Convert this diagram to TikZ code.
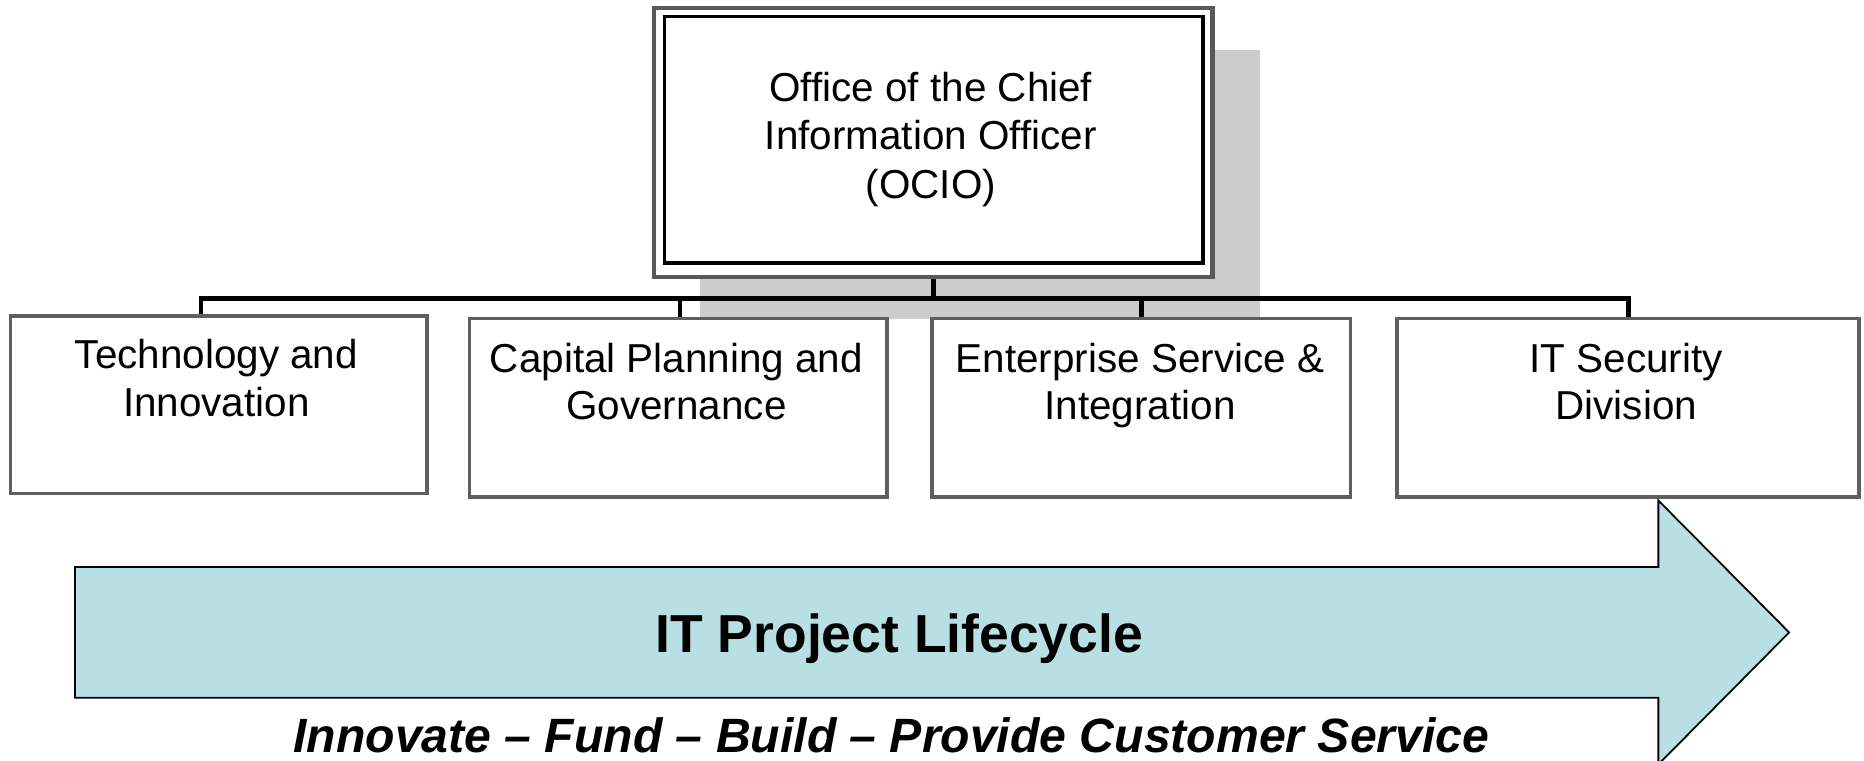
\documentclass[tikz,border=0pt]{standalone}
\usepackage{fontspec}
\setmainfont{Liberation Sans}
\definecolor{arrowfill}{RGB}{184,223,227}
\definecolor{shadowgray}{RGB}{204,204,204}
\definecolor{boxline}{RGB}{95,95,95}
\begin{document}
\begin{tikzpicture}[x=1pt,y=-1pt,
  unitbox/.style={draw=boxline, line width=3, fill=white, rectangle, inner sep=0pt},
  unittext/.style={font=\fontsize{34}{40}\selectfont, align=center, anchor=base, inner sep=0pt},
  bus/.style={draw=black, line width=4}
]
\useasboundingbox (0,0) rectangle (1568,640);
\fill[white] (0,0) rectangle (1568,640);

% shadow of the top box
\fill[shadowgray] (589,42) rectangle (1060,268);

% top box (double border)
\node[draw=black!65, line width=3.5, fill=white, minimum width=470, minimum height=226, inner sep=0pt] (ocio) at (785,120) {};
\node[draw=black, line width=3, minimum width=453, minimum height=207, inner sep=0pt] (ocioin) at (785.5,117.5) {};
\node[font=\fontsize{34}{41}\selectfont, align=center, anchor=base, inner sep=0pt] (ociotext) at (783,167) {Office of the Chief\\Information Officer\\(OCIO)};

% child boxes
\node[unitbox, minimum width=350, minimum height=149] (tech) at (184,340.5) {};
\node[unitbox, minimum width=351, minimum height=150] (cap) at (570.5,343) {};
\node[unitbox, minimum width=352, minimum height=150] (ent) at (960,343) {};
\node[unitbox, minimum width=389, minimum height=150] (its) at (1369.5,343) {};

\node[unittext] (techtext) at (182,350) {Technology and\\Innovation};
\node[unittext] (captext) at (569,353) {Capital Planning and\\Governance};
\node[unittext] (enttext) at (959,353) {Enterprise Service \&\\Integration};
\node[unittext] (itstext) at (1368,353) {IT Security\\Division};

% connectors
\coordinate (busL) at (169,251);
\coordinate (busR) at (1370,251);
\draw[bus] (ocio.south) -- (ocio.south |- busL);
\draw[bus, line cap=rect] (busL) -- (busR);
\draw[bus] (busL) -- (busL |- tech.north);
\draw[bus] (cap.north -| 572,0) -- (572,251);
\draw[bus] (ent.north) -- (ent.north |- busL);
\draw[bus] (busR) -- (busR |- its.north);

% lifecycle arrow
\draw[fill=arrowfill, line width=1.5, line join=miter]
  (63,477) -- (1395,477) -- (1395,421) -- (1505,532) -- (1395,643) -- (1395,587) -- (63,587) -- cycle;
\node[font=\fontsize{45}{50}\selectfont\bfseries, anchor=base, inner sep=0pt] (title) at (756.5,548.6) {IT Project Lifecycle};
\node[font=\fontsize{40.5}{46}\selectfont\bfseries\itshape, anchor=base, inner sep=0pt] (subtitle) at (749.8,633) {Innovate – Fund – Build – Provide Customer Service};
\end{tikzpicture}
\end{document}
